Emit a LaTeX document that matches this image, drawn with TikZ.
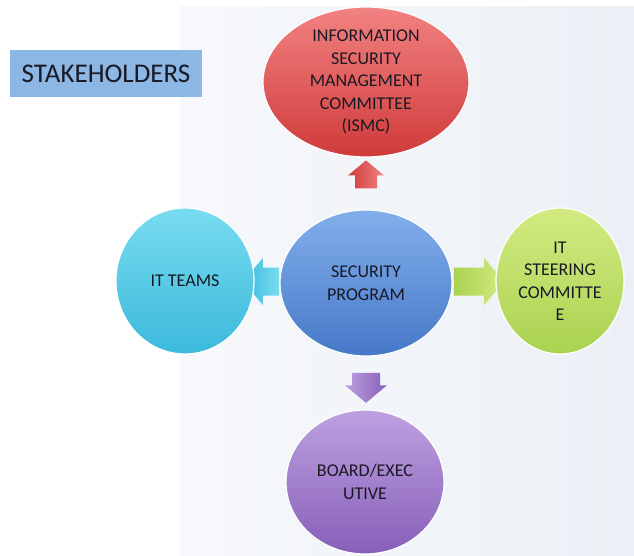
\documentclass[tikz,border=0pt]{standalone}
\usepackage{fontspec}
\setmainfont{Carlito}
\usetikzlibrary{shapes.geometric,shapes.arrows}
\definecolor{bgc}{RGB}{236,240,246}
\definecolor{redT}{RGB}{242,130,130}\definecolor{redB}{RGB}{208,58,58}
\definecolor{bluT}{RGB}{130,175,235}\definecolor{bluB}{RGB}{70,120,200}
\definecolor{cyaT}{RGB}{120,220,240}\definecolor{cyaB}{RGB}{60,185,220}
\definecolor{grnT}{RGB}{210,235,130}\definecolor{grnB}{RGB}{170,210,80}
\definecolor{purT}{RGB}{190,160,225}\definecolor{purB}{RGB}{135,95,185}
\definecolor{tagc}{RGB}{140,182,228}
\definecolor{txt}{RGB}{25,25,35}
\tikzset{
  stake/.style={ellipse, inner sep=0pt, draw=white, line width=1.2pt, align=center,
     font=\fontsize{18}{22.5}\selectfont, text=txt},
  blockarrow/.style 2 args={single arrow, inner xsep=0pt, inner ysep=#1,
     single arrow head extend=#2, single arrow tip angle=100, line width=0pt}
}
\begin{document}
\begin{tikzpicture}[x=1pt,y=-1pt]
\useasboundingbox (0,0) rectangle (634,556);
\fill[white] (0,0) rectangle (634,556);
\shade[left color=bgc!45, right color=bgc] (180,7) rectangle (634,556);
% title tag
\node[fill=tagc, minimum width=192pt, minimum height=47pt, inner sep=0pt, text=txt,
      font=\fontsize{27}{30}\selectfont] (tag) at (106,73.5) {STAKEHOLDERS};
% block arrows
\node[blockarrow={11pt}{7pt}, rotate=90, minimum height=28pt,
      left color=redB, right color=redT] (aup) at (366,179) {};
\node[blockarrow={14pt}{7pt}, rotate=-90, minimum height=30pt,
      left color=purT, right color=purB] (adown) at (366,382) {};
\node[blockarrow={14pt}{9.5pt}, rotate=180, minimum height=36pt,
      left color=cyaB, right color=cyaT] (aleft) at (267,281.5) {};
\node[blockarrow={14pt}{9.5pt}, minimum height=50pt,
      left color=grnB, right color=grnT] (aright) at (473,281.5) {};
% circles
\node[stake, top color=redT, bottom color=redB, minimum width=206pt, minimum height=150pt]
  (ismc) at (366,82) {INFORMATION\\SECURITY\\MANAGEMENT\\COMMITTEE\\(ISMC)};
\node[stake, top color=bluT, bottom color=bluB, minimum width=172pt, minimum height=146pt]
  (prog) at (366,283) {SECURITY\\PROGRAM};
\node[stake, top color=cyaT, bottom color=cyaB, minimum width=138pt, minimum height=146pt]
  (itt) at (185,281) {IT TEAMS};
\node[stake, top color=grnT, bottom color=grnB, minimum width=128pt, minimum height=146pt]
  (steer) at (560,281) {IT\\STEERING\\COMMITTE\\E};
\node[stake, top color=purT, bottom color=purB, minimum width=158pt, minimum height=144pt]
  (board) at (365,482) {BOARD/EXEC\\UTIVE};
\end{tikzpicture}
\end{document}
